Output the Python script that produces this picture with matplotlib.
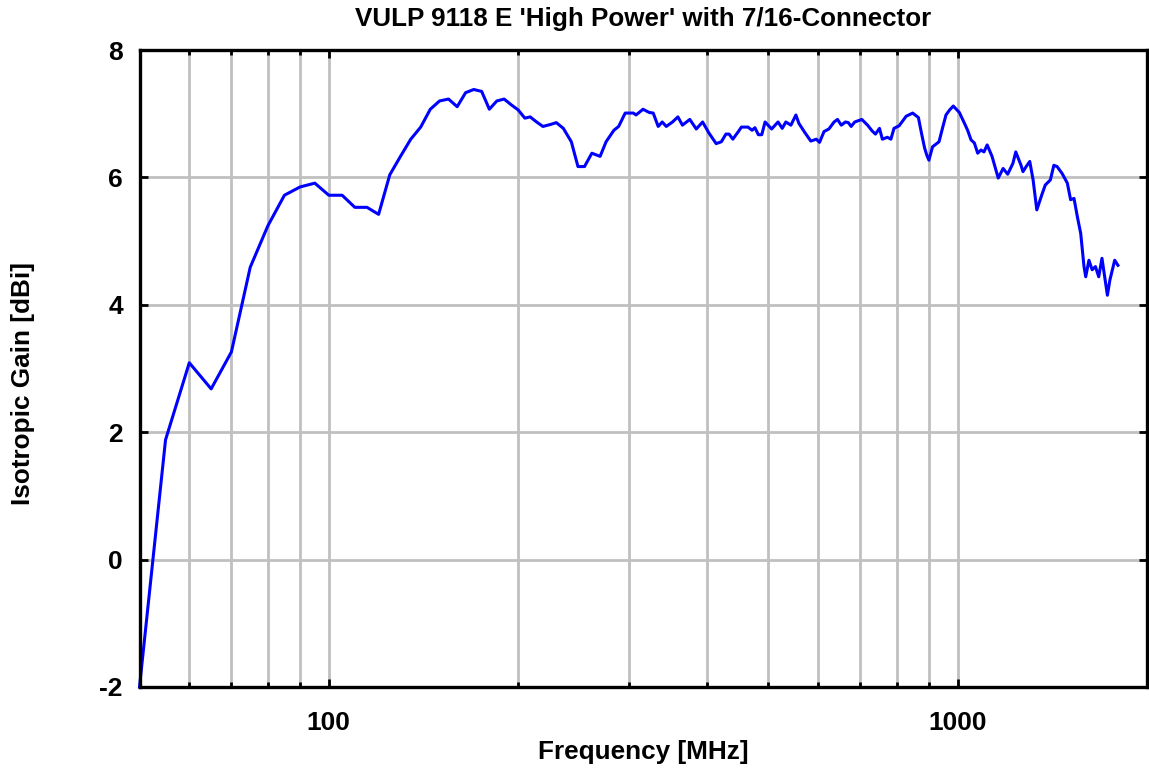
import matplotlib
matplotlib.use("Agg")
import matplotlib.pyplot as plt
from matplotlib.ticker import FixedLocator, NullFormatter

plt.rcParams['font.family'] = ['Liberation Sans', 'DejaVu Sans']
plt.rcParams['font.weight'] = 'bold'

title = "VULP 9118 E 'High Power' with 7/16-Connector"
xlabel = "Frequency [MHz]"
ylabel = "Isotropic Gain [dBi]"

freq_mhz = [50, 55, 60, 65, 70, 75, 80, 85, 90, 95, 100, 105, 110, 115, 120, 125,
            130, 135, 140, 145, 150, 155, 160, 165, 170, 175, 180, 185, 190, 195, 200,
            205, 209, 214, 219, 225, 230, 236, 243, 249, 255, 262, 270, 276, 284, 289,
            296, 305, 308, 316, 323, 328, 334, 339, 344, 352, 359, 365, 375, 384, 393,
            402, 413, 421, 428, 433, 439, 448, 453, 464, 471, 476, 482, 488, 494, 506,
            518, 526, 533, 543, 553, 559, 570, 584, 596, 603, 613, 624, 636, 644, 653,
            663, 670, 677, 686, 704, 719, 731, 740, 751, 759, 773, 783, 792, 807, 828,
            848, 866, 876, 886, 893, 900, 912, 934, 944, 958, 971, 984, 1006, 1025,
            1037, 1050, 1063, 1076, 1089, 1101, 1114, 1134, 1160, 1181, 1201, 1224,
            1237, 1261, 1270, 1285, 1302, 1318, 1336, 1360, 1378, 1404, 1422, 1439,
            1466, 1494, 1512, 1531, 1550, 1569, 1588, 1598, 1617, 1636, 1656, 1676,
            1696, 1716, 1730, 1746, 1777, 1798]
gain_dbi = [-2.0, 1.88, 3.09, 2.68, 3.26, 4.59, 5.24, 5.72, 5.85, 5.91, 5.72, 5.72, 5.53, 5.53, 5.42, 6.04,
            6.33, 6.60, 6.79, 7.07, 7.20, 7.23, 7.11, 7.33, 7.38, 7.35, 7.07, 7.20, 7.23, 7.14, 7.06,
            6.93, 6.95, 6.87, 6.80, 6.83, 6.86, 6.77, 6.56, 6.17, 6.17, 6.38, 6.33, 6.56, 6.74, 6.80,
            7.01, 7.01, 6.98, 7.07, 7.02, 7.01, 6.80, 6.87, 6.80, 6.87, 6.95, 6.82, 6.91, 6.76, 6.87,
            6.70, 6.53, 6.56, 6.68, 6.68, 6.60, 6.72, 6.79, 6.79, 6.74, 6.78, 6.67, 6.67, 6.87, 6.76,
            6.87, 6.77, 6.87, 6.82, 6.98, 6.85, 6.72, 6.57, 6.60, 6.55, 6.72, 6.76, 6.87, 6.91, 6.82,
            6.87, 6.86, 6.80, 6.87, 6.91, 6.82, 6.73, 6.68, 6.77, 6.60, 6.63, 6.60, 6.77, 6.81, 6.96,
            7.01, 6.94, 6.69, 6.46, 6.35, 6.27, 6.48, 6.56, 6.74, 6.98, 7.06, 7.12, 7.02, 6.85,
            6.74, 6.59, 6.54, 6.38, 6.43, 6.40, 6.51, 6.33, 5.99, 6.14, 6.05, 6.22,
            6.40, 6.19, 6.09, 6.17, 6.25, 5.96, 5.49, 5.72, 5.88, 5.96, 6.19, 6.17,
            6.06, 5.91, 5.65, 5.67, 5.38, 5.12, 4.60, 4.44, 4.70, 4.55, 4.60, 4.44,
            4.73, 4.39, 4.15, 4.39, 4.70, 4.62]

x_major = [100, 1000]
x_major_labels = ['100', '1000']
x_minor = [60, 70, 80, 90, 200, 300, 400, 500, 600, 700, 800, 900]
y_ticks = [-2, 0, 2, 4, 6, 8]
y_tick_labels = ['-2', '0', '2', '4', '6', '8']

W, H = 1149, 769
fig = plt.figure(figsize=(W / 100, H / 100), dpi=100)
L, R, T, B = 139.5, 1147, 50, 687
ax = fig.add_axes([L / W, 1 - B / H, (R - L) / W, (B - T) / H])

ax.set_xscale('log')
ax.set_xlim(50, 2000)
ax.set_ylim(-2, 8)

grid_kw = dict(color='#c0c0c0', linewidth=2.0, zorder=1)
for xv in x_minor + x_major:
    ax.axvline(xv, **grid_kw)
for yv in [0, 2, 4, 6]:
    ax.axhline(yv, **grid_kw)

ax.plot(freq_mhz, gain_dbi, color='#0000ff', linewidth=2.2, zorder=3, clip_on=False,
        solid_joinstyle='round')

ax.xaxis.set_major_locator(FixedLocator(x_major))
ax.xaxis.set_minor_locator(FixedLocator(x_minor))
ax.set_xticklabels(x_major_labels)
ax.xaxis.set_minor_formatter(NullFormatter())
ax.set_yticks(y_ticks)
ax.set_yticklabels(y_tick_labels)

ax.tick_params(axis='x', which='major', direction='in', length=6, width=2,
               top=True, bottom=True, labelsize=19, pad=17)
ax.tick_params(axis='x', which='minor', direction='in', length=3.5, width=2,
               top=True, bottom=True)
ax.tick_params(axis='y', which='major', direction='in', length=6, width=2,
               left=True, right=True, labelsize=19, pad=12)
for lab in ax.get_xticklabels() + ax.get_yticklabels():
    lab.set_fontweight('bold')

for s in ax.spines.values():
    s.set_linewidth(2.4)
    s.set_color('black')
    s.set_zorder(4)

cx = (L + R) / 2 / W
fig.text(cx, 1 - 19 / H, title, ha='center', va='center', fontsize=18.7, fontweight='bold')
fig.text(cx, 1 - 752 / H, xlabel, ha='center', va='center', fontsize=18.8, fontweight='bold')
fig.text(23 / W, 1 - 384 / H, ylabel, ha='center', va='center', rotation=90,
         fontsize=18.8, fontweight='bold')

fig.savefig('out.png', dpi=100)
